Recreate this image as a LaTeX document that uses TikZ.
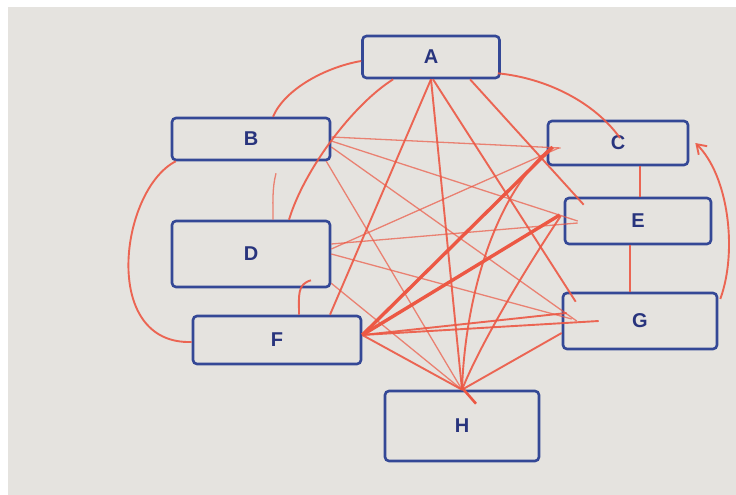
\documentclass[tikz,border=0pt]{standalone}
\usepackage{fontspec}
\setmainfont{Liberation Sans}
\usetikzlibrary{calc,arrows.meta}
\definecolor{bg}{RGB}{229,227,223}
\definecolor{boxblue}{RGB}{52,72,150}
\definecolor{txtblue}{RGB}{40,52,125}
\definecolor{pen}{RGB}{236,88,68}
\tikzset{
  box/.style={draw=boxblue, line width=2.6pt, rounded corners=4pt, inner sep=0pt,
    font=\fontsize{20}{22}\selectfont\bfseries, text=txtblue},
  thin/.style={draw=pen, line width=1.3pt, opacity=.7},
  mid/.style={draw=pen, line width=1.9pt, opacity=.9},
  thick/.style={draw=pen, line width=3.4pt},
}
\begin{document}
\begin{tikzpicture}[x=1pt,y=-1pt]
\useasboundingbox (0,0) rectangle (736,495);
\fill[white] (0,0) rectangle (736,495);
\fill[bg] (8,7) rectangle (736,495);

% nodes
\node[box, minimum width=137pt, minimum height=42pt] (A) at (431,57) {A};
\node[box, minimum width=158pt, minimum height=42pt] (B) at (251,139) {B};
\node[box, minimum width=140pt, minimum height=44pt] (C) at (618,143) {C};
\node[box, minimum width=158pt, minimum height=66pt] (D) at (251,254) {D};
\node[box, minimum width=146pt, minimum height=46pt] (E) at (638,221) {E};
\node[box, minimum width=168pt, minimum height=48pt] (F) at (277,340) {F};
\node[box, minimum width=154pt, minimum height=56pt] (G) at (640,321) {G};
\node[box, minimum width=154pt, minimum height=70pt] (H) at (462,426) {H};

% curves around
\draw[mid] ($(A.west)+(0,4)$) .. controls +(-35,6) and +(12,-28) .. ($(B.north)+(22,0)$);
\draw[mid] ($(A.south east)+(-3,-6)$) .. controls +(50,5) and +(-25,-35) .. ($(C.center)+(2,-5)$);
\draw[mid] ($(A.south west)+(32,0)$) .. controls +(-40,25) and +(15,-50) .. ($(D.north)+(38,0)$);
\draw[mid] ($(B.south west)+(5,0)$) .. controls (120,190) and (100,345) .. ($(F.west)+(0,2)$);
\draw[thin] ($(B.south)+(25,12)$) .. controls +(-4,15) and +(0,-15) .. ($(D.north)+(22,0)$);
\draw[mid] ($(D.south)+(60,-8)$) .. controls +(-14,4) and +(0,-20) .. ($(F.north)+(22,0)$);
\draw[mid] ($(C.south)+(22,0)$) -- ($(E.north)+(2,0)$);
\draw[mid] ($(E.south)+(-8,0)$) -- ($(G.north)+(-10,0)$);
\draw[mid, -{Straight Barb[length=9pt,width=12pt]}] ($(G.east)+(2,-22)$) .. controls (738,250) and (728,175) .. ($(C.east)+(6,0)$);

% from A
\draw[mid] (A.south) -- ($(F.north)+(53,0)$);
\draw[mid] (A.south) -- (H.north);
\draw[mid] ($(A.south)+(2,0)$) -- ($(G.north west)+(14,10)$);
\draw[mid] ($(A.south)+(39,0)$) -- ($(E.north west)+(20,8)$);

% from B
\draw[thin] ($(B.east)+(0,-2)$) -- ($(C.west)+(14,5)$);
\draw[thin] ($(B.east)+(0,2)$) -- ($(E.west)+(14,0)$);
\draw[thin] ($(B.east)+(0,8)$) -- ($(G.west)+(15,0)$);
\draw[thin] ($(B.south east)+(-5,0)$) -- (H.north);

% from D
\draw[thin] ($(D.east)+(0,-5)$) -- ($(C.west)+(12,5)$);
\draw[thin] ($(D.east)+(0,-10)$) -- ($(E.west)+(14,2)$);
\draw[thin] (D.east) -- ($(G.west)+(10,-2)$);
\draw[thin] ($(D.south east)+(0,-5)$) -- (H.north);

% from F
\draw[thick] ($(F.east)+(0,-5)$) -- ($(C.west)+(6,4)$);
\draw[thick] ($(F.east)+(0,-5)$) -- ($(E.west)+(-4,-6)$);
\draw[mid] ($(F.east)+(0,-5)$) -- ($(G.west)+(37,0)$);
\draw[mid] ($(F.east)+(0,-5)$) -- ($(G.west)+(5,-8)$);
\draw[mid] ($(F.east)+(0,-5)$) -- (H.north);

% from H
\draw[mid] (H.north) .. controls +(3,-90) and +(-58,48) .. ($(C.west)+(5,4)$);
\draw[mid] (H.north) .. controls +(20,-50) and +(-30,45) .. ($(E.west)+(-3,-5)$);
\draw[mid] (H.north) -- ($(G.west)+(0,12)$);
\draw[thick, line width=2.6pt] ($(H.north)+(0,-2)$) -- ($(H.north)+(14,14)$);
\end{tikzpicture}
\end{document}
